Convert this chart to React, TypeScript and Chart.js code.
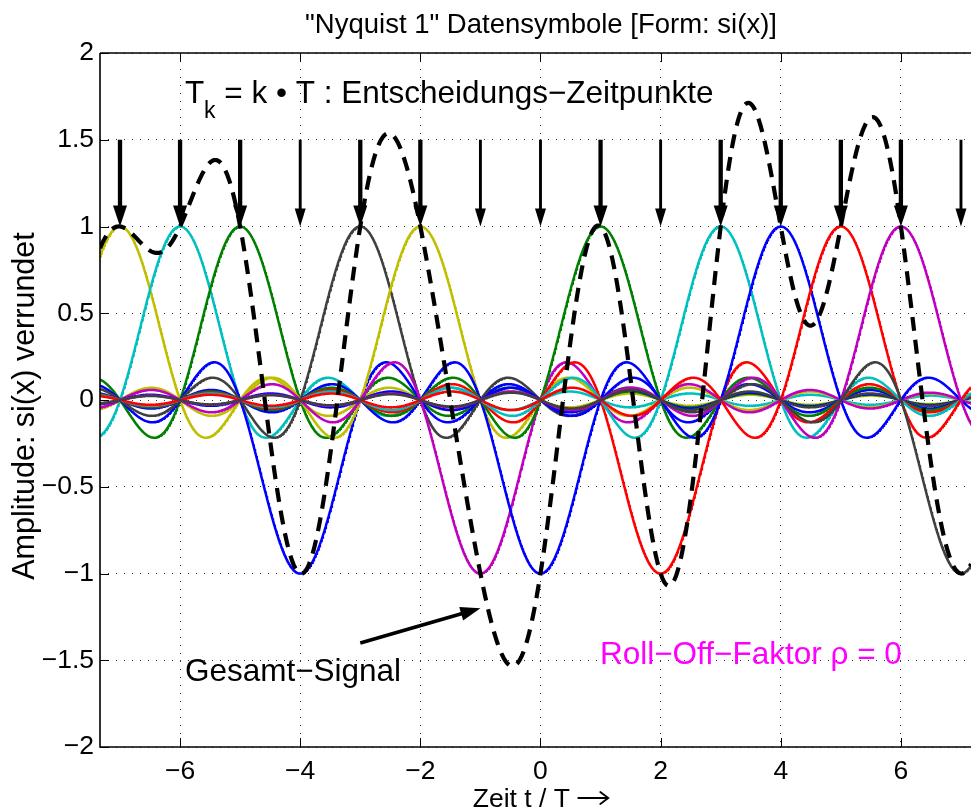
import React, { useEffect, useRef } from "react";
import { Chart, registerables } from "chart.js";

Chart.register(...registerables);

// ---- data ----
const symbolTimes = [-7, -6, -5, -4, -3, -2, -1, 0, 1, 2, 3, 4, 5, 6, 7];
const symbolAmplitudes = [1, 1, 1, -1, 1, 1, -1, -1, 1, -1, 1, 1, 1, 1, -1];
const pulseColors = [
  "#BFBF00", "#00BFBF", "#008000", "#0000FF", "#404040",
  "#BFBF00", "#BF00BF", "#0000FF", "#008000", "#FF0000",
  "#00BFBF", "#0000FF", "#FF0000", "#BF00BF", "#404040",
];
const xTicks = [-6, -4, -2, 0, 2, 4, 6];
const yTicks = [-2, -1.5, -1, -0.5, 0, 0.5, 1, 1.5, 2];
const xRange = [-7.333, 7.167];
const yRange = [-2, 2];
const arrowTop = 1.5;
const arrowTip = 1.0;
const sampleStep = 0.01;

const titleText = '"Nyquist 1" Datensymbole [Form: si(x)]';
const xLabelMain = "Zeit t / T ";
const yLabel = "Amplitude: si(x) verrundet";
const decisionMain = "T";
const decisionSub = "k";
const decisionRest = " = k \u2022 T : Entscheidungs\u2212Zeitpunkte";
const decisionPos = [-5.92, 1.71];
const sumText = "Gesamt\u2212Signal";
const sumTextPos = [-5.92, -1.62];
const sumArrowFrom = [-3.0, -1.4];
const sumArrowTo = [-1.0, -1.2];
const rollOffText = "Roll\u2212Off\u2212Faktor \u03C1 = 0";
const rollOffPos = [0.99, -1.52];

const FONT = '"Liberation Sans", Arial, Helvetica, sans-serif';

function si(x: number): number {
  if (Math.abs(x) < 1e-12) return 1;
  return Math.sin(Math.PI * x) / (Math.PI * x);
}

function fmt(v: number): string {
  const s = String(Math.abs(v));
  return v < 0 ? "\u2212" + s : s;
}

function drawArrow(
  ctx: CanvasRenderingContext2D,
  x1: number, y1: number, x2: number, y2: number,
  width: number, headLen: number, headWidth: number
) {
  const dx = x2 - x1, dy = y2 - y1;
  const len = Math.hypot(dx, dy);
  const ux = dx / len, uy = dy / len;
  const bx = x2 - ux * headLen, by = y2 - uy * headLen;
  ctx.save();
  ctx.strokeStyle = "#000";
  ctx.fillStyle = "#000";
  ctx.lineWidth = width;
  ctx.lineCap = "butt";
  ctx.beginPath();
  ctx.moveTo(x1, y1);
  ctx.lineTo(bx + ux * 2, by + uy * 2);
  ctx.stroke();
  ctx.beginPath();
  ctx.moveTo(x2, y2);
  ctx.lineTo(bx - uy * headWidth / 2, by + ux * headWidth / 2);
  ctx.lineTo(bx + uy * headWidth / 2, by - ux * headWidth / 2);
  ctx.closePath();
  ctx.fill();
  ctx.restore();
}

const decorPlugin = {
  id: "decor",
  afterDatasetsDraw(chart: any) {
    const { ctx, scales } = chart;
    const x = scales.x, y = scales.y;
    symbolTimes.forEach((k, i) => {
      const thick = symbolAmplitudes[i] > 0;
      const px = x.getPixelForValue(k);
      drawArrow(
        ctx, px, y.getPixelForValue(arrowTop), px, y.getPixelForValue(arrowTip),
        thick ? 4.3 : 2.9, thick ? 21 : 18, thick ? 14 : 11
      );
    });
    drawArrow(
      ctx,
      x.getPixelForValue(sumArrowFrom[0]), y.getPixelForValue(sumArrowFrom[1]),
      x.getPixelForValue(sumArrowTo[0]), y.getPixelForValue(sumArrowTo[1]),
      3.6, 20, 14
    );
    ctx.save();
    ctx.fillStyle = "#000";
    ctx.textBaseline = "alphabetic";
    ctx.textAlign = "left";
    ctx.font = `31.5px ${FONT}`;
    let tx = x.getPixelForValue(decisionPos[0]);
    const ty = y.getPixelForValue(decisionPos[1]);
    ctx.fillText(decisionMain, tx, ty);
    tx += ctx.measureText(decisionMain).width;
    ctx.font = `23px ${FONT}`;
    ctx.fillText(decisionSub, tx, ty + 15);
    tx += ctx.measureText(decisionSub).width;
    ctx.font = `31.5px ${FONT}`;
    ctx.fillText(decisionRest, tx, ty);
    ctx.fillText(sumText, x.getPixelForValue(sumTextPos[0]), y.getPixelForValue(sumTextPos[1]));
    ctx.fillStyle = "#FF00FF";
    ctx.fillText(rollOffText, x.getPixelForValue(rollOffPos[0]), y.getPixelForValue(rollOffPos[1]));
    ctx.restore();
  },
  afterDraw(chart: any) {
    const { ctx, chartArea: a, scales } = chart;
    const x = scales.x, y = scales.y;
    ctx.save();
    ctx.strokeStyle = "#000";
    ctx.lineWidth = 1.6;
    ctx.beginPath();
    ctx.moveTo(a.left, a.top);
    ctx.lineTo(a.right + 20, a.top);
    ctx.moveTo(a.left, a.top);
    ctx.lineTo(a.left, a.bottom);
    ctx.lineTo(a.right + 20, a.bottom);
    ctx.stroke();
    ctx.lineWidth = 1;
    const tl = 9;
    ctx.beginPath();
    xTicks.forEach((v) => {
      const px = Math.round(x.getPixelForValue(v)) + 0.5;
      ctx.moveTo(px, a.top);
      ctx.lineTo(px, a.top + tl);
      ctx.moveTo(px, a.bottom);
      ctx.lineTo(px, a.bottom - tl);
    });
    yTicks.forEach((v) => {
      const py = Math.round(y.getPixelForValue(v)) + 0.5;
      ctx.moveTo(a.left, py);
      ctx.lineTo(a.left + tl, py);
    });
    ctx.stroke();
    // title
    ctx.fillStyle = "#000";
    ctx.textAlign = "center";
    ctx.textBaseline = "alphabetic";
    ctx.font = `27.5px ${FONT}`;
    ctx.fillText(titleText, 541, 33);
    // x label: text followed by a thin right arrow
    ctx.font = `26.5px ${FONT}`;
    const wMain = ctx.measureText(xLabelMain).width;
    const arrowLen = 30;
    const startX = 540 - (wMain + arrowLen) / 2;
    ctx.textAlign = "left";
    ctx.fillText(xLabelMain, startX, 807);
    const ax0 = startX + wMain + 1;
    const ax1 = ax0 + arrowLen;
    const ay = 798;
    ctx.strokeStyle = "#000";
    ctx.lineWidth = 1.8;
    ctx.lineCap = "round";
    ctx.beginPath();
    ctx.moveTo(ax0, ay);
    ctx.lineTo(ax1, ay);
    ctx.moveTo(ax1 - 8, ay - 6);
    ctx.lineTo(ax1, ay);
    ctx.lineTo(ax1 - 8, ay + 6);
    ctx.stroke();
    // y label
    ctx.textAlign = "center";
    ctx.translate(34, 406);
    ctx.rotate(-Math.PI / 2);
    ctx.font = `30.5px ${FONT}`;
    ctx.fillText(yLabel, 0, 0);
    ctx.restore();
  },
};

export default function App() {
  const ref = useRef<HTMLCanvasElement>(null);
  useEffect(() => {
    document.body.style.margin = "0";
    const canvas = ref.current;
    if (!canvas) return;

    const tSamples: number[] = [];
    const n = Math.round((xRange[1] - xRange[0]) / sampleStep);
    for (let i = 0; i <= n; i++) tSamples.push(xRange[0] + ((xRange[1] - xRange[0]) * i) / n);

    const pulseSets = symbolTimes.map((k, idx) => ({
      label: `k = ${k}`,
      data: tSamples.map((t) => ({ x: t, y: symbolAmplitudes[idx] * si(t - k) })),
      borderColor: pulseColors[idx],
      backgroundColor: pulseColors[idx],
      borderWidth: 2.5,
      pointRadius: 0,
      tension: 0,
      fill: false,
      order: 1 + (symbolTimes.length - 1 - idx),
    }));
    const sumSet = {
      label: "Gesamt-Signal",
      data: tSamples.map((t) => ({
        x: t,
        y: symbolTimes.reduce((s, k, i) => s + symbolAmplitudes[i] * si(t - k), 0),
      })),
      borderColor: "#000",
      backgroundColor: "#000",
      borderWidth: 4.2,
      borderDash: [14, 9],
      pointRadius: 0,
      tension: 0,
      fill: false,
      order: 0,
    };

    const tickFont = { family: FONT, size: 26.5 };
    const chart = new Chart(canvas, {
      type: "line",
      data: { datasets: [sumSet, ...pulseSets] as any },
      options: {
        animation: false,
        responsive: false,
        devicePixelRatio: 1,
        layout: { padding: { top: 53, left: 0, right: 0, bottom: 0 } },
        plugins: { legend: { display: false }, title: { display: false }, tooltip: { enabled: false } },
        scales: {
          x: {
            type: "linear",
            min: xRange[0],
            max: xRange[1],
            afterBuildTicks: (s: any) => {
              s.ticks = xTicks.map((v) => ({ value: v }));
            },
            afterFit: (s: any) => {
              s.height = 65;
            },
            ticks: { font: tickFont, color: "#000", padding: 9, maxRotation: 0, autoSkip: false, callback: (v: any) => fmt(Number(v)) },
            grid: { color: "rgba(0,0,0,0.8)", lineWidth: 1, drawTicks: false },
            border: { display: false, dash: [1, 7] },
          },
          y: {
            type: "linear",
            min: yRange[0],
            max: yRange[1],
            afterBuildTicks: (s: any) => {
              s.ticks = yTicks.map((v) => ({ value: v }));
            },
            afterFit: (s: any) => {
              s.width = 100;
            },
            ticks: { font: tickFont, color: "#000", padding: 6, autoSkip: false, callback: (v: any) => fmt(Number(v)) },
            grid: { color: "rgba(0,0,0,0.8)", lineWidth: 1, drawTicks: false },
            border: { display: false, dash: [1, 7] },
          },
        },
      },
      plugins: [decorPlugin],
    } as any);
    return () => chart.destroy();
  }, []);

  return (
    <div style={{ width: 971, height: 812, background: "#fff" }}>
      <canvas ref={ref} width={971} height={812} style={{ display: "block" }} />
    </div>
  );
}
